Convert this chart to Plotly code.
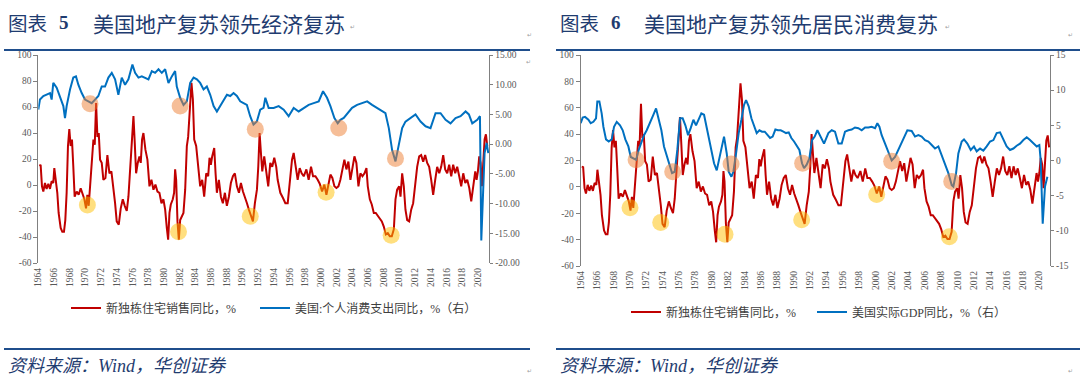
import plotly.graph_objects as go

W, H = 1080, 382

# ---------------- data ----------------
year_ticks = list(range(1964, 2021, 2))
year_labels = [str(y) for y in year_ticks]

sales_ticks = [-60, -40, -20, 0, 20, 40, 60, 80, 100]
sales_tick_labels = [str(v) for v in sales_ticks]
pce_ticks = [-20, -15, -10, -5, 0, 5, 10, 15]
pce_tick_labels = ["%.2f" % v for v in pce_ticks]
gdp_ticks = [-15, -10, -5, 0, 5, 10, 15]
gdp_tick_labels = [str(v) for v in gdp_ticks]

# New single-family home sales, YoY %
sales_year = [
    1964.13, 1964.30, 1964.47, 1964.64, 1964.85, 1965.06, 1965.28, 1965.49, 1965.70, 1965.91,
    1966.04, 1966.25, 1966.42, 1966.59, 1966.85, 1967.06, 1967.27, 1967.44, 1967.61, 1967.78,
    1967.95, 1968.12, 1968.29, 1968.46, 1968.63, 1968.89, 1969.14, 1969.40, 1969.65, 1969.87,
    1970.08, 1970.25, 1970.42, 1970.59, 1970.80, 1971.02, 1971.19, 1971.36, 1971.53, 1971.70,
    1971.87, 1972.08, 1972.29, 1972.55, 1972.80, 1973.06, 1973.31, 1973.57, 1973.78, 1973.99,
    1974.25, 1974.50, 1974.76, 1975.01, 1975.27, 1975.48, 1975.69, 1975.91, 1976.12, 1976.29,
    1976.46, 1976.67, 1976.88, 1977.05, 1977.22, 1977.39, 1977.65, 1977.90, 1978.16, 1978.41,
    1978.67, 1978.92, 1979.18, 1979.43, 1979.69, 1979.94, 1980.16, 1980.37, 1980.54, 1980.71,
    1980.88, 1981.13, 1981.30, 1981.43, 1981.56, 1981.73, 1981.90, 1982.07, 1982.28, 1982.49,
    1982.71, 1982.92, 1983.09, 1983.26, 1983.51, 1983.69, 1983.86, 1984.11, 1984.37, 1984.62,
    1984.88, 1985.13, 1985.39, 1985.64, 1985.81, 1985.98, 1986.15, 1986.41, 1986.58, 1986.75,
    1987.00, 1987.26, 1987.51, 1987.77, 1988.02, 1988.28, 1988.53, 1988.79, 1989.04, 1989.30,
    1989.56, 1989.81, 1990.07, 1990.32, 1990.58, 1990.83, 1991.08, 1991.34, 1991.59, 1991.85,
    1992.02, 1992.19, 1992.36, 1992.53, 1992.78, 1993.04, 1993.29, 1993.55, 1993.80, 1994.06,
    1994.31, 1994.49, 1994.83, 1995.17, 1995.47, 1995.77, 1996.02, 1996.32, 1996.53, 1996.79,
    1997.04, 1997.30, 1997.55, 1997.81, 1998.15, 1998.44, 1998.74, 1999.00, 1999.30, 1999.59,
    1999.85, 2000.15, 2000.44, 2000.70, 2000.95, 2001.21, 2001.46, 2001.72, 2001.97, 2002.23,
    2002.48, 2002.74, 2002.99, 2003.25, 2003.50, 2003.76, 2004.01, 2004.27, 2004.52, 2004.78,
    2005.03, 2005.29, 2005.55, 2005.80, 2005.97, 2006.23, 2006.48, 2006.74, 2006.99, 2007.25,
    2007.50, 2007.76, 2008.01, 2008.27, 2008.52, 2008.78, 2009.03, 2009.29, 2009.50, 2009.71,
    2009.97, 2010.14, 2010.35, 2010.56, 2010.77, 2010.99, 2011.24, 2011.50, 2011.75, 2012.01,
    2012.26, 2012.52, 2012.77, 2013.03, 2013.28, 2013.54, 2013.79, 2014.05, 2014.30, 2014.56,
    2014.81, 2015.07, 2015.32, 2015.58, 2015.83, 2016.09, 2016.34, 2016.60, 2016.85, 2017.11,
    2017.36, 2017.62, 2017.87, 2018.13, 2018.39, 2018.64, 2018.90, 2019.15, 2019.41, 2019.66,
    2019.83, 2020.00, 2020.17, 2020.34, 2020.51, 2020.68, 2020.85, 2021.02, 2021.19,
]
sales_yoy = [
    15.4, 15, -1, -5, 1.5, -3, 1, -3, 3, 1.5,
    13, 1.5, -6, -21.5, -33, -36, -36, -27, -6, 30,
    43, 30, 35, 14, -9, -5, -7.5, -2.5, -7.5, -11,
    -18, -7.5, -16, -1, 14, 35, 31, 63, 37, 40,
    19.5, 17, 4, 5.4, 23, 9, 10.5, -1, -14, -28,
    -30.5, -18, -11, -16, -20, -9, 14, 36, 53, 32,
    9, 17, 22, 17, 35, 40, 27, 19.5, -1, 4,
    -3.6, 0.3, -5, -6, -14, -11, -19, -33, -42, -21.5,
    -15, -11, -6, 12, 4, -28, -42, -27, -24, -21.5,
    -3.6, 30, 37, 58, 78.5, 66, 35, 30, 14, -1,
    4, -9, 9, 6.7, 21, 15.6, 22, 28.5, 9, -6,
    4, -9, -14, -6, -16, -9, 1.5, 6.7, 9, -1,
    -6, 1.5, -5, -9, -14, -19, -23, -28, -14, -3.6,
    14, 40, 24.6, 10.5, 22, 9, -1, 17, 14, 21,
    14, 4, -6, -10, -14, -14, 4, 19.5, 24.6, 14,
    4, 13, 9, 6.7, 12, 4, 14, 6.7, 6.7, 4,
    1, -5, 0.3, -7.5, 1.5, 8, 5.4, -1, -2.3, -1,
    4, 13, 19.5, 12, 18, 4, 14, 22, 17, -1,
    9, 6.7, 9, 13, -1, -11, -15, -21.5, -21.5, -24,
    -25.4, -28, -32, -38, -37, -39.5, -39.5, -34, -11, -3.6,
    -1, -9, 9, -1, -19, -27, -28, -19, -14, 1.5,
    14, 22, 23, 18, 23, 17, 14, 4, -7.5, 4,
    14, 9, 14, 23, 12, 9, 15.6, 6.7, 15.6, 9,
    14, 6.7, -1, 9, 1.5, 4, -2.3, -12.6, 1.5, 10.5,
    4, 10.5, 22, 17, -1, 19.5, 35, 39, 30,
]

# US personal consumption expenditure, YoY % (right axis, chart 5)
pce_year = [
    1964.00, 1964.21, 1964.64, 1965.06, 1965.49, 1965.70, 1965.91, 1966.34, 1966.76, 1967.19,
    1967.40, 1967.61, 1968.04, 1968.46, 1968.80, 1969.10, 1969.53, 1969.95, 1970.38, 1970.80,
    1971.23, 1971.65, 1972.08, 1972.50, 1972.93, 1973.36, 1973.78, 1974.20, 1974.63, 1975.05,
    1975.48, 1975.99, 1976.33, 1976.76, 1977.18, 1977.61, 1978.03, 1978.46, 1978.88, 1979.31,
    1979.73, 1980.16, 1980.58, 1981.01, 1981.43, 1981.64, 1982.07, 1982.50, 1982.92, 1983.35,
    1983.78, 1984.20, 1984.62, 1985.05, 1985.47, 1985.90, 1986.33, 1986.75, 1987.17, 1987.60,
    1988.03, 1988.45, 1988.87, 1989.30, 1989.72, 1990.14, 1990.57, 1990.99, 1991.41, 1991.84,
    1992.27, 1992.69, 1992.92, 1993.34, 1993.98, 1994.62, 1995.26, 1995.89, 1996.53, 1997.17,
    1997.81, 1998.44, 1999.08, 1999.72, 2000.27, 2000.78, 2001.21, 2001.72, 2002.14, 2002.48,
    2002.91, 2003.33, 2003.97, 2004.61, 2005.25, 2005.89, 2006.52, 2007.16, 2007.80, 2008.22,
    2008.65, 2009.07, 2009.50, 2009.92, 2010.35, 2010.77, 2011.41, 2012.05, 2012.69, 2013.33,
    2013.96, 2014.60, 2015.24, 2015.88, 2016.51, 2017.15, 2017.79, 2018.43, 2018.85, 2019.28,
    2019.92, 2020.26, 2020.43, 2020.68, 2020.85, 2021.11, 2021.32,
]
pce_yoy = [
    5.8, 7.5, 8.1, 8.3, 8.6, 7.5, 10.3, 9.5, 7.8, 6.4,
    4.4, 6.4, 9.2, 11.2, 11.4, 10.0, 8.6, 7.5, 7.2, 6.9,
    7.5, 8.1, 9.7, 9.7, 11.2, 12.0, 10.9, 8.3, 11.2, 10.0,
    10.9, 13.4, 12.0, 11.2, 11.4, 11.2, 10.9, 12.3, 12.0, 12.6,
    12.0, 12.6, 10.3, 11.4, 12.3, 9.7, 7.8, 6.6, 7.2, 10.3,
    11.2, 10.9, 10.3, 9.2, 9.7, 8.3, 6.4, 5.5, 6.4, 7.5,
    8.3, 8.1, 8.6, 8.1, 7.2, 6.9, 6.6, 4.7, 3.3, 3.8,
    5.8, 6.1, 7.8, 6.1, 6.1, 6.4, 5.8, 4.7, 6.1, 5.5,
    6.1, 6.6, 6.9, 7.2, 8.9, 7.8, 6.4, 4.4, 3.5, 4.1,
    4.4, 5.0, 6.1, 6.6, 6.9, 7.2, 6.6, 6.1, 5.5, 5.2,
    2.7, -1.0, -2.9, -0.4, 2.7, 3.8, 4.4, 5.0, 3.8, 3.0,
    2.7, 5.2, 5.2, 4.1, 3.5, 4.4, 4.7, 5.5, 5.0, 3.5,
    4.1, 4.7, -16.2, -6.0, -1.5, 0.2, -1.5,
]

# US real GDP, YoY % (right axis, chart 6)
gdp_year = [
    1964.00, 1964.24, 1964.53, 1964.94, 1965.22, 1965.55, 1965.87, 1966.03, 1966.28, 1966.56,
    1966.77, 1967.09, 1967.42, 1967.79, 1968.07, 1968.40, 1968.80, 1969.13, 1969.45, 1969.82,
    1970.11, 1970.43, 1970.76, 1971.08, 1971.41, 1971.73, 1972.06, 1972.47, 1972.87, 1973.20,
    1973.52, 1973.85, 1974.17, 1974.50, 1974.83, 1975.15, 1975.48, 1975.80, 1976.13, 1976.45,
    1976.78, 1977.11, 1977.43, 1977.76, 1978.08, 1978.41, 1978.73, 1979.06, 1979.38, 1979.63,
    1979.95, 1980.28, 1980.61, 1980.93, 1981.26, 1981.50, 1981.83, 1982.07, 1982.40, 1982.64,
    1982.97, 1983.29, 1983.62, 1983.94, 1984.19, 1984.51, 1984.84, 1985.16, 1985.49, 1985.82,
    1986.14, 1986.47, 1986.79, 1987.12, 1987.44, 1987.77, 1988.09, 1988.42, 1988.75, 1989.07,
    1989.40, 1989.72, 1990.05, 1990.37, 1990.70, 1991.02, 1991.27, 1991.59, 1991.92, 1992.25,
    1992.57, 1992.90, 1993.30, 1993.71, 1994.24, 1994.65, 1995.05, 1995.46, 1995.87, 1996.27,
    1996.68, 1997.09, 1997.49, 1997.90, 1998.31, 1998.72, 1999.12, 1999.53, 1999.94, 2000.22,
    2000.47, 2000.75, 2001.16, 2001.56, 2001.97, 2002.38, 2002.79, 2003.19, 2003.60, 2003.88,
    2004.41, 2004.82, 2005.23, 2005.63, 2006.04, 2006.45, 2006.86, 2007.26, 2007.67, 2008.08,
    2008.48, 2008.89, 2009.30, 2009.50, 2009.83, 2010.11, 2010.52, 2010.80, 2011.21, 2011.62,
    2012.02, 2012.35, 2012.76, 2013.16, 2013.57, 2013.98, 2014.39, 2014.79, 2015.20, 2015.61,
    2016.01, 2016.42, 2016.83, 2017.23, 2017.64, 2018.05, 2018.46, 2018.86, 2019.27, 2019.68,
    2020.00, 2020.16, 2020.41, 2020.69, 2020.98,
]
gdp_yoy = [
    5.3, 6.1, 6.2, 5.8, 5.3, 5.5, 6.0, 8.4, 8.4, 6.7,
    4.8, 3.0, 2.7, 3.0, 4.8, 5.5, 5.0, 4.3, 3.0, 2.0,
    0.5, 0.3, 0.1, 1.5, 2.7, 3.6, 4.3, 5.3, 6.5, 7.4,
    5.8, 4.3, 2.0, 0.8, -0.6, -1.8, -1.6, 1.5, 6.0, 6.0,
    5.0, 3.6, 4.6, 5.8, 5.0, 5.8, 6.7, 6.5, 4.6, 3.4,
    1.5, -0.4, -1.4, 0.5, 2.4, 3.4, 1.0, -1.6, -2.3, -1.6,
    1.0, 3.9, 5.8, 7.9, 8.6, 7.7, 6.0, 5.0, 3.9, 4.3,
    4.1, 4.1, 3.6, 3.2, 3.4, 4.4, 4.3, 4.3, 4.1, 3.9,
    4.0, 3.2, 2.7, 2.0, 1.5, -0.4, -1.1, -0.6, 0.3, 2.9,
    3.4, 4.3, 3.4, 2.4, 3.9, 4.3, 4.1, 2.4, 2.4, 4.1,
    4.3, 4.4, 4.7, 4.6, 4.3, 4.7, 4.7, 4.8, 4.6, 5.3,
    4.8, 3.6, 2.4, 1.3, 0.0, 0.5, 1.5, 2.4, 3.6, 4.3,
    4.2, 3.4, 3.6, 3.4, 2.9, 2.7, 2.2, 1.7, 2.0, 0.8,
    -0.4, -1.8, -3.5, -3.7, -1.8, 1.0, 2.7, 3.0, 2.4, 1.5,
    2.0, 1.3, 1.7, 1.4, 2.0, 2.7, 2.9, 3.9, 4.0, 2.9,
    2.0, 1.5, 1.7, 2.1, 2.4, 2.9, 3.3, 2.9, 2.4, 2.0,
    2.2, 0.1, -9.0, -3.7, -2.3,
]

# highlighted troughs
f5_pce_mark_year = [1970.59, 1982.07, 1991.64, 2002.27, 2009.50]
f5_pce_mark_val = [6.8, 6.4, 2.5, 2.7, -2.4]
f5_sales_mark_year = [1970.25, 1981.86, 1991.00, 2000.66, 2008.95]
f5_sales_mark_val = [-15.4, -36, -24, -5.6, -38.7]
f6_gdp_mark_year = [1970.76, 1975.23, 1982.36, 1991.10, 2001.97, 2009.30]
f6_gdp_mark_val = [0.1, -1.6, -0.5, -0.4, -0.1, -3.0]
f6_sales_mark_year = [1970.02, 1973.77, 1981.62, 1990.98, 2000.14, 2009.01]
f6_sales_mark_val = [-15.8, -27, -36, -25, -5.7, -37.8]

assert len(sales_year) == len(sales_yoy)
assert len(pce_year) == len(pce_yoy)
assert len(gdp_year) == len(gdp_yoy)

name_sales = "新独栋住宅销售同比，%"
name_pce = "美国:个人消费支出同比，%（右）"
name_gdp = "美国实际GDP同比，%（右）"

# ---------------- styling ----------------
RED = "#C00000"
BLUE = "#0070C0"
AXC = "#808080"
NAVY = "#1F3C70"
LINEBLUE = "#1F4E8C"
ORANGE_HL = "rgba(237,125,49,0.5)"
YELLOW_HL = "rgba(255,192,0,0.5)"
SERIF_CJK = "Liberation Serif, Noto Sans CJK SC"
tickfont = dict(family="Liberation Serif", size=9.5, color="#595959")


def px(x):
    return x / W


def py(y):
    return 1 - y / H


L_dx = [px(38.3), px(489.3)]
L_dy = [py(263), py(55)]
R_dx = [px(580.7), px(1050)]
R_dy = [py(266), py(55)]
L_xr = [1964.0, 2021.45]
R_xr = [1964.0, 2021.3]
zero_L = L_dy[0] + (0 - sales_ticks[0]) / (sales_ticks[-1] - sales_ticks[0]) * (L_dy[1] - L_dy[0])
zero_R = R_dy[0] + (0 - sales_ticks[0]) / (sales_ticks[-1] - sales_ticks[0]) * (R_dy[1] - R_dy[0])

fig = go.Figure()

# ---- chart 5 ----
fig.add_trace(go.Scatter(x=sales_year, y=sales_yoy, xaxis="x", yaxis="y", mode="lines",
                         line=dict(color=RED, width=2), name=name_sales, legend="legend",
                         legendwidth=144))
fig.add_trace(go.Scatter(x=pce_year, y=pce_yoy, xaxis="x", yaxis="y2", mode="lines",
                         line=dict(color=BLUE, width=2), name=name_pce, legend="legend"))
fig.add_trace(go.Scatter(x=f5_sales_mark_year, y=f5_sales_mark_val, xaxis="x", yaxis="y",
                         mode="markers", marker=dict(size=17, color=YELLOW_HL, line=dict(width=0)),
                         showlegend=False, hoverinfo="skip"))
fig.add_trace(go.Scatter(x=f5_pce_mark_year, y=f5_pce_mark_val, xaxis="x", yaxis="y2",
                         mode="markers", marker=dict(size=17, color=ORANGE_HL, line=dict(width=0)),
                         showlegend=False, hoverinfo="skip"))

# ---- chart 6 ----
fig.add_trace(go.Scatter(x=sales_year, y=sales_yoy, xaxis="x2", yaxis="y3", mode="lines",
                         line=dict(color=RED, width=2), name=name_sales, legend="legend2",
                         legendwidth=141))
fig.add_trace(go.Scatter(x=gdp_year, y=gdp_yoy, xaxis="x2", yaxis="y4", mode="lines",
                         line=dict(color=BLUE, width=2), name=name_gdp, legend="legend2"))
fig.add_trace(go.Scatter(x=f6_sales_mark_year, y=f6_sales_mark_val, xaxis="x2", yaxis="y3",
                         mode="markers", marker=dict(size=17, color=YELLOW_HL, line=dict(width=0)),
                         showlegend=False, hoverinfo="skip"))
fig.add_trace(go.Scatter(x=f6_gdp_mark_year, y=f6_gdp_mark_val, xaxis="x2", yaxis="y4",
                         mode="markers", marker=dict(size=17, color=ORANGE_HL, line=dict(width=0)),
                         showlegend=False, hoverinfo="skip"))

xlabel_axis = dict(tickmode="array", tickvals=year_ticks, ticktext=year_labels, tickangle=-90,
                   showline=False, showgrid=False, zeroline=False, ticks="", tickfont=tickfont,
                   ticklabelstandoff=2, fixedrange=True, automargin=False)
zero_axis = dict(tickmode="array", tickvals=year_ticks, ticks="outside", ticklen=3, tickcolor=AXC,
                 showticklabels=False, showline=True, linecolor=AXC, linewidth=1,
                 showgrid=False, zeroline=False, layer="below traces", fixedrange=True,
                 automargin=False)
yleft = dict(range=[sales_ticks[0], sales_ticks[-1]], tickmode="array", tickvals=sales_ticks,
             ticktext=sales_tick_labels, ticks="outside", ticklen=4, tickcolor=AXC, showline=True,
             linecolor=AXC, linewidth=1, showgrid=False, zeroline=False, tickfont=tickfont,
             fixedrange=True, automargin=False)
yright = dict(side="right", ticks="outside", ticklen=3, tickcolor=AXC, showline=True,
              linecolor=AXC, linewidth=1, showgrid=False, zeroline=False, tickfont=tickfont,
              tickmode="array", fixedrange=True, automargin=False)

legend_common = dict(orientation="h", xanchor="left", yanchor="middle", bgcolor="rgba(0,0,0,0)",
                     font=dict(family=SERIF_CJK, size=12, color="#404040"),
                     traceorder="normal")

fig.update_layout(
    width=W, height=H, margin=dict(l=0, r=0, t=0, b=0, pad=0, autoexpand=False),
    paper_bgcolor="white", plot_bgcolor="white", hovermode=False,
    xaxis=dict(domain=L_dx, anchor="y", range=L_xr, **xlabel_axis),
    xaxis3=dict(domain=L_dx, overlaying="x", anchor="free", position=zero_L, range=L_xr, **zero_axis),
    yaxis=dict(domain=L_dy, anchor="x", **yleft),
    yaxis2=dict(overlaying="y", anchor="x", range=[pce_ticks[0], pce_ticks[-1]],
                tickvals=pce_ticks, ticktext=pce_tick_labels, **yright),
    xaxis2=dict(domain=R_dx, anchor="y3", range=R_xr, **xlabel_axis),
    xaxis4=dict(domain=R_dx, overlaying="x2", anchor="free", position=zero_R, range=R_xr, **zero_axis),
    yaxis3=dict(domain=R_dy, anchor="x2", **yleft),
    yaxis4=dict(overlaying="y3", anchor="x2", range=[gdp_ticks[0], gdp_ticks[-1]],
                tickvals=gdp_ticks, ticktext=gdp_tick_labels, **yright),
    legend=dict(x=px(66), y=py(308), **legend_common),
    legend2=dict(x=px(626), y=py(312), **legend_common),
)

# ---- headings, rules and source lines ----
shapes = []
for x0, x1 in [(4, 530), (556, 1080)]:
    shapes.append(dict(type="line", xref="paper", yref="paper", x0=px(x0), x1=px(x1),
                       y0=py(50), y1=py(50), line=dict(color=LINEBLUE, width=2)))
    shapes.append(dict(type="line", xref="paper", yref="paper", x0=px(x0), x1=px(x1),
                       y0=py(349), y1=py(349), line=dict(color=LINEBLUE, width=2)))
fig.update_layout(shapes=shapes)


def ann(text, x, y, size, family, color=NAVY, weight="normal", style="normal"):
    fig.add_annotation(text=text, x=px(x), y=py(y), xref="paper", yref="paper",
                       xanchor="left", yanchor="middle", showarrow=False,
                       font=dict(family=family, size=size, color=color, weight=weight, style=style))


ann("图表", 6, 23, 19.5, "Noto Sans CJK SC")
ann("5", 57, 23, 19, "Liberation Serif", weight="bold")
ann("美国地产复苏领先经济复苏", 91, 23, 21, "Noto Sans CJK SC")
ann("图表", 558, 23, 19.5, "Noto Sans CJK SC")
ann("6", 609, 23, 19, "Liberation Serif", weight="bold")
ann("美国地产复苏领先居民消费复苏", 642, 23, 21, "Noto Sans CJK SC")

ann("资料来源：Wind，华创证券", 6, 366, 18, SERIF_CJK, style="italic")
ann("资料来源：Wind，华创证券", 558, 366, 18, SERIF_CJK, style="italic")

# tiny paragraph marks from the source document
for mx, my in [(348, 27), (525, 34), (524, 61), (525, 370), (943, 27), (1066, 34), (1066, 370)]:
    ann("↵", mx, my, 6, "DejaVu Sans", color="#A0A0A0")

# the page's default 8px body margin would offset the whole figure
fig.write_html("out.html", config={"displayModeBar": False, "staticPlot": False},
               post_script="document.body.style.margin='0';")
